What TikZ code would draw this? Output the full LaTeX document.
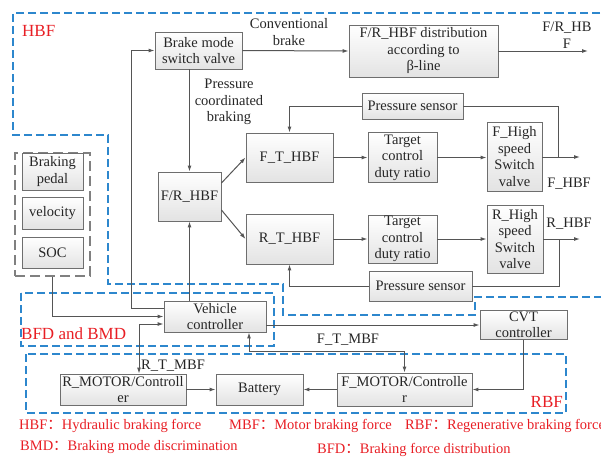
\documentclass[tikz,border=0pt]{standalone}
\usepackage{fontspec}
\setmainfont{Liberation Serif}
\newfontfamily\cjk{Noto Sans CJK SC}
\usepackage{tikz}
\usetikzlibrary{arrows.meta}
\usetikzlibrary{calc}

\definecolor{lineGray}{RGB}{85,85,85}
\definecolor{boxGray}{RGB}{110,110,110}
\definecolor{hbfBlue}{RGB}{45,135,205}
\definecolor{legendRed}{RGB}{232,30,36}

\tikzset{
  every node/.style={font=\fontsize{14.5}{16.5}\selectfont, text=black!85},
  blk/.style={draw=boxGray, line width=0.9pt, top color=white, bottom color=gray!22,
    align=center, inner sep=1pt},
  arr/.style={draw=lineGray, line width=1pt, -{Latex[length=6pt,width=4pt]}},
  dblarr/.style={draw=lineGray, line width=1pt, {Latex[length=6pt,width=4pt]}-{Latex[length=6pt,width=4pt]}},
  wire/.style={draw=lineGray, line width=1pt},
  region/.style={draw=hbfBlue, line width=1.3pt, dash pattern=on 8pt off 4pt},
  inbox/.style={draw=gray, line width=1.2pt, dash pattern=on 10pt off 5pt,
    minimum width=75pt, minimum height=123pt},
  regionlabel/.style={font=\fontsize{17}{19}\selectfont, text=legendRed, inner sep=0pt},
  legend/.style={font=\fontsize{14.5}{16.5}\selectfont, text=legendRed, inner sep=0pt, anchor=west},
  lbl/.style={align=center, inner sep=0pt}
}

\begin{document}
\begin{tikzpicture}[x=1pt, y=-1pt]
      \useasboundingbox (0,0) rectangle (601,459);

      %draw dashed regions
      \draw[region] (612,13) -- (13,13) -- (13,135) -- (108,135) -- (108,284) -- (283,284)
        -- (283,315) -- (475,315) -- (475,297) -- (612,297);
      \draw[region] (21,293) rectangle (274,346);
      \draw[region] (26,354) rectangle (566,413);

      %hydraulic part
      \node[blk, minimum width=87pt, minimum height=37pt] (brake) at (198.5,50.5) {Brake mode\\switch valve};
      \node[blk, minimum width=149pt, minimum height=52pt] (dist) at (423.5,51) {F/R\_HBF distribution\\according to\\β-line};
      \node[blk, minimum width=101pt, minimum height=26pt] (psF) at (412.5,106) {Pressure sensor};
      \node[blk, minimum width=63pt, minimum height=49pt] (frhbf) at (189.5,196.5) {F/R\_HBF};
      \node[blk, minimum width=87pt, minimum height=49pt] (fthbf) at (289.5,157.5) {F\_T\_HBF};
      \node[blk, minimum width=87pt, minimum height=50pt] (rthbf) at (289.5,239) {R\_T\_HBF};
      \node[blk, minimum width=69pt, minimum height=50pt] (tcF) at (402.5,157.5) {Target\\control\\duty ratio};
      \node[blk, minimum width=69pt, minimum height=48pt] (tcR) at (402.5,239) {Target\\control\\duty ratio};
      \node[blk, minimum width=55pt, minimum height=69pt] (fhigh) at (514.5,156.5) {F\_High\\speed\\Switch\\valve};
      \node[blk, minimum width=56pt, minimum height=68pt] (rhigh) at (515,239) {R\_High\\speed\\Switch\\valve};
      \node[blk, minimum width=103pt, minimum height=30pt] (psR) at (420.5,286) {Pressure sensor};

      %inputs
      \node[inbox] (inputs) at (52.5,214.5) {};
      \node[blk, minimum width=61pt, minimum height=37pt] (pedal) at (52.5,171.5) {Braking\\pedal};
      \node[blk, minimum width=61pt, minimum height=32pt] (velocity) at (52.5,213) {velocity};
      \node[blk, minimum width=61pt, minimum height=31pt] (soc) at (52.5,252.5) {SOC};

      %controllers and motors
      \node[blk, minimum width=102pt, minimum height=31pt] (vc) at (215,316.5) {Vehicle\\controller};
      \node[blk, minimum width=87pt, minimum height=28pt] (cvt) at (523.5,325) {CVT\\controller};
      \node[blk, minimum width=126pt, minimum height=31pt] (rmotor) at (123,389.5) {R\_MOTOR/Controll\\er};
      \node[blk, minimum width=87pt, minimum height=31pt] (battery) at (259.5,389.5) {Battery};
      \node[blk, minimum width=135pt, minimum height=33pt] (fmotor) at (404.5,389.5) {F\_MOTOR/Controlle\\r};

      \coordinate (frOut) at (588,51);
      \coordinate (fOut) at (580,157);
      \coordinate (fTap) at (558,157);
      \coordinate (rOut) at (580,239);
      \coordinate (rTap) at (559,239);

      %draw connectors
      \draw[arr] ([yshift=8.5pt]vc.west) -- ++(-32,0) |- (brake.west);
      \draw[arr] (brake.east) -- (dist.west);
      \draw[arr] (dist.east) -- (frOut);
      \draw[arr] (brake.south -| frhbf.north) -- (frhbf.north);
      \draw[arr] ([yshift=13.5pt]frhbf.east) -- (fthbf.west);
      \draw[arr] ([yshift=-13.5pt]frhbf.east) -- (rthbf.west);
      \draw[arr] (fthbf.east) -- (fthbf.east -| tcF.west);
      \draw[arr] (tcF.east) -- (tcF.east -| fhigh.west);
      \draw[arr] (fhigh.east |- fOut) -- (fOut);
      \draw[wire] (fTap) |- (psF.east);
      \draw[arr] (psF.west) -| (fthbf.north);
      \draw[arr] (rthbf.east) -- (rthbf.east -| tcR.west);
      \draw[arr] (tcR.east) -- (tcR.east -| rhigh.west);
      \draw[arr] (rhigh.east |- rOut) -- (rOut);
      \draw[wire] (rTap) |- (psR.east);
      \draw[arr] (psR.west) -| (rthbf.south);
      \draw[arr] (inputs.south) |- (vc.west);
      \draw[arr] (vc.north -| frhbf.south) -- (frhbf.south);
      \draw[arr] (vc.east |- cvt.west) -- (cvt.west);
      \draw[arr] (cvt.south) |- (fmotor.east);
      \draw[arr] (fmotor.west) -- (battery.east);
      \draw[arr] (rmotor.east) -- (battery.west);
      \draw[dblarr] ([yshift=-7.5pt]vc.west) -| ([xshift=16pt]rmotor.north);
      \draw[dblarr] ([xshift=34pt]vc.south) -- ++(0,19) -| (fmotor.north);

      %draw labels
      \node[lbl] (convLbl) at (289,32) {Conventional\\brake};
      \node[lbl] (frLbl) at (567,35) {F/R\_HB\\F};
      \node[lbl] (pcbLbl) at (229,102) {Pressure\\coordinated\\braking};
      \node[lbl] (fhbfLbl) at (569,184) {F\_HBF};
      \node[lbl] (rhbfLbl) at (569,224) {R\_HBF};
      \node[lbl, anchor=west] (rtmLbl) at (141,366) {R\_T\_MBF};
      \node[lbl] (ftmLbl) at (348,340) {F\_T\_MBF};

      %region labels
      \node[regionlabel, anchor=west] (hbfReg) at (22,31) {HBF};
      \node[regionlabel, anchor=west] (bfdReg) at (21,334) {BFD and BMD};
      \node[regionlabel, anchor=east] (rbfReg) at (563,402) {RBF};

      %legend
      \node[legend] (legHBF) at (19,426) {HBF{\cjk ：}Hydraulic braking force};
      \node[legend] (legMBF) at (229,426) {MBF{\cjk ：}Motor braking force};
      \node[legend] (legRBF) at (405,426) {RBF{\cjk ：}Regenerative braking force};
      \node[legend] (legBMD) at (20,447) {BMD{\cjk ：}Braking mode discrimination};
      \node[legend] (legBFD) at (317,450) {BFD{\cjk ：}Braking force distribution};
    \end{tikzpicture}
\end{document}
